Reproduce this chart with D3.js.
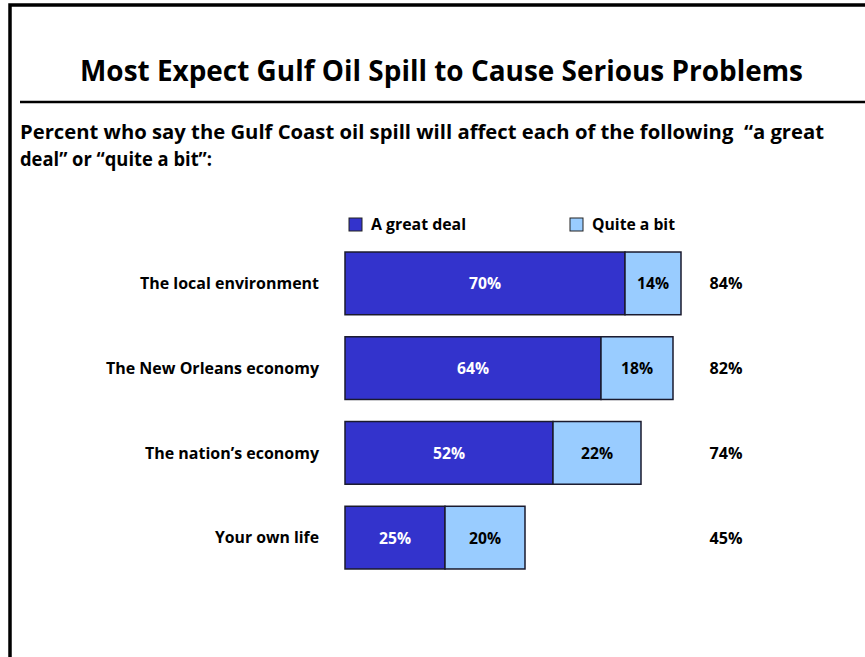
<!DOCTYPE html>
<html>
<head>
<meta charset="utf-8">
<script src="https://cdn.jsdelivr.net/npm/d3@7/dist/d3.min.js"></script>
<style>
  html, body { margin: 0; padding: 0; background: #fff; }
  svg text { font-family: "Open Sans", "Liberation Sans", Arial, sans-serif; font-weight: bold; }
</style>
</head>
<body>
<svg id="chart" width="865" height="657"></svg>
<script>
// Survey items and responses (percent)
const categories = ["The local environment", "The New Orleans economy", "The nation\u2019s economy", "Your own life"];
const greatDeal = [70, 64, 52, 25];
const quiteABit = [14, 18, 22, 20];
const totals = [84, 82, 74, 45];
const seriesNames = ["A great deal", "Quite a bit"];
const seriesColors = ["#3333CC", "#99CCFF"];

const titleText = "Most Expect Gulf Oil Spill to Cause Serious Problems";
const subtitleLines = [
  "Percent who say the Gulf Coast oil spill will affect each of the following  \u201ca great",
  "deal\u201d or \u201cquite a bit\u201d:"
];

// Rendered widths of the label texts (px)
const categoryWidths = [179, 213, 174, 104];
const legendWidths = [95, 83];

const svg = d3.select("#chart");

// Slide frame
svg.append("path")
  .attr("d", "M10,657 V5 H865")
  .attr("fill", "none").attr("stroke", "#000").attr("stroke-width", 3.5);
svg.append("line")
  .attr("x1", 20).attr("x2", 865).attr("y1", 102).attr("y2", 102)
  .attr("stroke", "#000").attr("stroke-width", 2.5);

// Title
svg.append("text")
  .attr("x", 80).attr("y", 81)
  .attr("font-size", 29)
  .attr("textLength", 723).attr("lengthAdjust", "spacingAndGlyphs")
  .text(titleText);

// Subtitle
svg.selectAll("text.sub").data(subtitleLines).join("text")
  .attr("class", "sub")
  .style("white-space", "pre")
  .attr("x", 20).attr("y", (d, i) => 139 + i * 27)
  .attr("font-size", 19.5)
  .attr("textLength", (d, i) => i === 0 ? 804 : 192)
  .attr("lengthAdjust", "spacingAndGlyphs")
  .text(d => d);

// Scales
const x = d3.scaleLinear().domain([0, 100]).range([345, 745]);
const y = d3.scaleBand().domain(categories).range([241, 580]).paddingInner(0.26).paddingOuter(0.13);

const rows = categories.map((c, i) => ({
  cat: c,
  idx: i,
  segs: [
    { s: 0, x0: 0, x1: greatDeal[i], v: greatDeal[i] },
    { s: 1, x0: greatDeal[i], x1: greatDeal[i] + quiteABit[i], v: quiteABit[i] }
  ],
  total: totals[i]
}));

const g = svg.selectAll("g.row").data(rows).join("g").attr("class", "row");

g.selectAll("rect").data(d => d.segs.map(s => ({ ...s, cat: d.cat }))).join("rect")
  .attr("x", d => x(d.x0))
  .attr("width", d => x(d.x1) - x(d.x0))
  .attr("y", d => y(d.cat))
  .attr("height", y.bandwidth())
  .attr("fill", d => seriesColors[d.s])
  .attr("stroke", "#1a1a2e").attr("stroke-width", 1.5);

g.selectAll("text.val").data(d => d.segs.map(s => ({ ...s, cat: d.cat }))).join("text")
  .attr("class", "val")
  .attr("x", d => (x(d.x0) + x(d.x1)) / 2)
  .attr("y", d => y(d.cat) + y.bandwidth() / 2)
  .attr("dy", "0.36em")
  .attr("text-anchor", "middle")
  .attr("font-size", 16.5)
  .attr("textLength", 32).attr("lengthAdjust", "spacingAndGlyphs")
  .attr("fill", d => d.s === 0 ? "#fff" : "#000")
  .text(d => d.v + "%");

// Category labels
g.append("text")
  .attr("x", 319)
  .attr("y", d => y(d.cat) + y.bandwidth() / 2)
  .attr("dy", "0.36em")
  .attr("text-anchor", "end")
  .attr("font-size", 16)
  .attr("textLength", d => categoryWidths[d.idx]).attr("lengthAdjust", "spacingAndGlyphs")
  .text(d => d.cat);

// Net totals
g.append("text")
  .attr("x", 726)
  .attr("y", d => y(d.cat) + y.bandwidth() / 2)
  .attr("dy", "0.36em")
  .attr("text-anchor", "middle")
  .attr("font-size", 16.5)
  .attr("textLength", 33).attr("lengthAdjust", "spacingAndGlyphs")
  .text(d => d.total + "%");

// Legend
const legendX = [349, 570];
const lg = svg.selectAll("g.legend").data(seriesNames).join("g")
  .attr("class", "legend")
  .attr("transform", (d, i) => `translate(${legendX[i]},218)`);
lg.append("rect")
  .attr("width", 13).attr("height", 13)
  .attr("fill", (d, i) => seriesColors[i])
  .attr("stroke", "#222").attr("stroke-width", 1);
lg.append("text")
  .attr("x", 22).attr("y", 6.5).attr("dy", "0.36em")
  .attr("font-size", 16)
  .attr("textLength", (d, i) => legendWidths[i]).attr("lengthAdjust", "spacingAndGlyphs")
  .text(d => d);
</script>
</body>
</html>
